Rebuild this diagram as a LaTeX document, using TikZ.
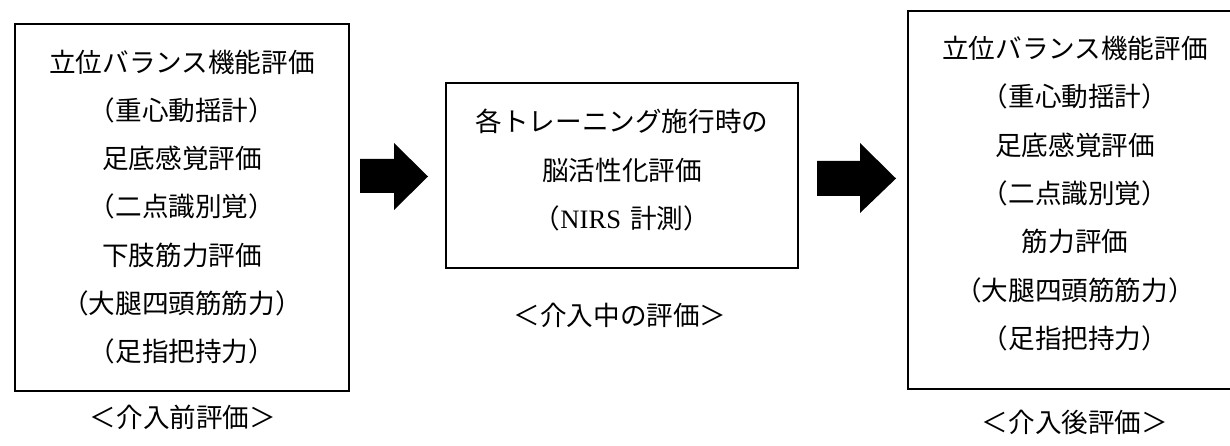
\documentclass[tikz,border=0pt]{standalone}
\usepackage{fontspec}
\setmainfont{Noto Sans CJK JP}
\newfontfamily\latfont{Liberation Serif}
\begin{document}
\begin{tikzpicture}[x=1pt,y=-1pt,
  box/.style={draw=black,line width=1.1pt,rectangle,inner sep=0pt},
  txt/.style={align=center,inner sep=0pt,font=\fontsize{26.6}{48.3}\selectfont},
  lbl/.style={inner sep=0pt,font=\fontsize{26.6}{30}\selectfont},
  blockarrow/.style={fill=black,draw=none}]
\useasboundingbox (0,0) rectangle (1230,446);
\clip (0,0) rectangle (1230,446);
% boxes
\node[box,minimum width=334pt,minimum height=367pt] (b1) at (182,207.5) {};
\node[box,minimum width=352pt,minimum height=185pt] (b2) at (622,175.5) {};
\node[box,minimum width=334pt,minimum height=378pt] (b3) at (1075,200) {};
% texts
\node[txt] (t1) at (182,207) {立位バランス機能評価\\（重心動揺計）\\足底感覚評価\\（二点識別覚）\\下肢筋力評価\\（大腿四頭筋筋力）\\（足指把持力）};
\node[txt] (t2) at (622,170) {各トレーニング施行時の\\脳活性化評価\\（{\latfont NIRS}\hspace{0.35em}計測）};
\node[txt] (t3) at (1075,193.5) {立位バランス機能評価\\（重心動揺計）\\足底感覚評価\\（二点識別覚）\\筋力評価\\（大腿四頭筋筋力）\\（足指把持力）};
% labels
\node[lbl] (l1) at (183,417) {＜介入前評価＞};
\node[lbl] (l2) at (620,315) {＜介入中の評価＞};
\node[lbl] (l3) at (1075,422) {＜介入後評価＞};
% block arrows
\fill[blockarrow] (360,159) -- (394,159) -- (394,143) -- (428,176.5) -- (394,210) -- (394,193) -- (360,193) -- cycle;
\fill[blockarrow] (817,161) -- (860,161) -- (860,143) -- (896,178.5) -- (860,213) -- (860,196) -- (817,196) -- cycle;
\end{tikzpicture}
\end{document}
